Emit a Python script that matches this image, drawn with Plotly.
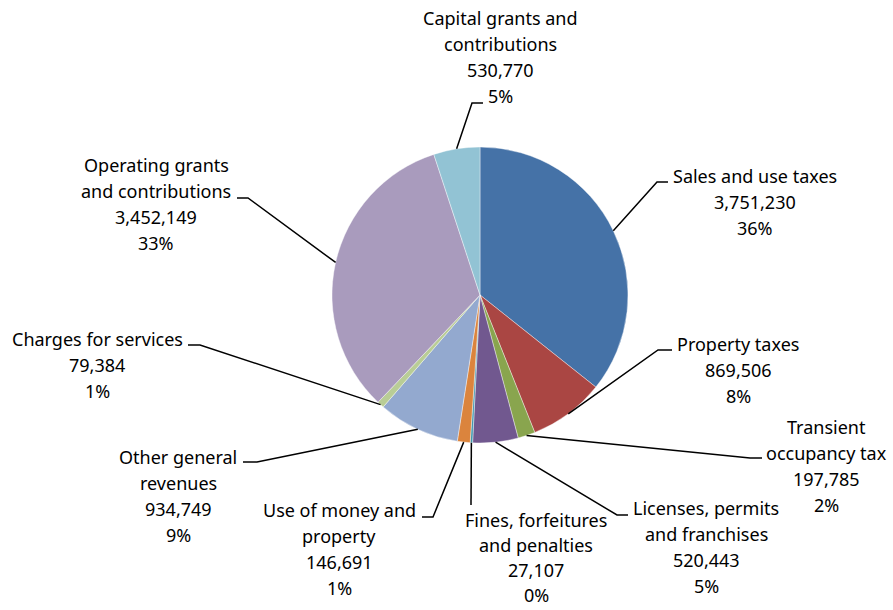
import math
import plotly.graph_objects as go

# Revenue sources, in drawing order (clockwise from 12 o'clock)
categories = [
    "Sales and use taxes",
    "Property taxes",
    "Transient\noccupancy tax",
    "Licenses, permits\nand franchises",
    "Fines, forfeitures\nand penalties",
    "Use of money and\nproperty",
    "Other general\nrevenues",
    "Charges for services",
    "Operating grants\nand contributions",
    "Capital grants and\ncontributions",
]
values = [3751230, 869506, 197785, 520443, 27107, 146691, 934749, 79384, 3452149, 530770]
colors = ["#4572A7", "#AA4643", "#89A54E", "#71588F", "#4198AF",
          "#DB843D", "#93A9CF", "#B9CD96", "#A99BBD", "#92C3D4"]

# Canvas and pie geometry (pixels)
W, H = 893, 610
CX, CY, R = 480, 295, 148

# Label placement: text centre x, centre y of first line, line step,
# leader waypoints after the slice edge
label_layout = [
    (755, 176, 26, [(657, 182), (668, 182)]),
    (738, 344, 26, [(658, 350), (672, 350)]),
    (826, 427, 26, [(750, 458), (762, 458)]),
    (706, 508, 26, [(617, 515), (628, 515)]),
    (536, 520, 25, [(471, 505)]),
    (339, 510, 26, [(433, 517), (422, 517)]),
    (178, 457, 26, [(257, 462), (243, 462)]),
    (97, 339, 26, [(200, 345), (188, 345)]),
    (156, 165, 26, [(248, 198), (237, 198)]),
    (500, 18, 26, [(472, 103), (483, 103)]),
]
FONT = dict(family="Noto Sans, Open Sans, sans-serif", size=18, color="#000000")


def px(x):
    return x / W


def py(y):
    return 1 - y / H


fig = go.Figure(go.Pie(
    values=values,
    labels=[c.replace("\n", " ") for c in categories],
    marker=dict(colors=colors, line=dict(color="#FFFFFF", width=0.4)),
    sort=False,
    direction="clockwise",
    rotation=0,
    textinfo="none",
    hoverinfo="label+value+percent",
    showlegend=False,
    domain=dict(x=[px(CX - R), px(CX + R)], y=[py(CY + R), py(CY - R)]),
))

total = sum(values)
annotations = []
shapes = []
cum = 0.0
for name, val, (tx, ty, step, pts) in zip(categories, values, label_layout):
    frac = val / total
    mid = (cum + frac / 2) * 2 * math.pi
    cum += frac
    # point on the slice rim at the slice's mid-angle
    ex = CX + R * math.sin(mid)
    ey = CY - R * math.cos(mid)
    path = "M {:.5f} {:.5f}".format(px(ex), py(ey))
    for (x, y) in pts:
        path += " L {:.5f} {:.5f}".format(px(x), py(y))
    shapes.append(dict(type="path", xref="paper", yref="paper", path=path,
                       line=dict(color="#000000", width=1.5)))

    lines = name.split("\n") + ["{:,}".format(val), "{:.0f}%".format(round(frac * 100))]
    for i, t in enumerate(lines):
        annotations.append(dict(
            x=px(tx), y=py(ty + i * step), xref="paper", yref="paper",
            text=t, showarrow=False, xanchor="center", yanchor="middle",
            font=FONT,
        ))

fig.update_layout(
    width=W, height=H,
    margin=dict(l=0, r=0, t=0, b=0),
    paper_bgcolor="#FFFFFF",
    plot_bgcolor="#FFFFFF",
    annotations=annotations,
    shapes=shapes,
)

fig.write_html("out.html")
